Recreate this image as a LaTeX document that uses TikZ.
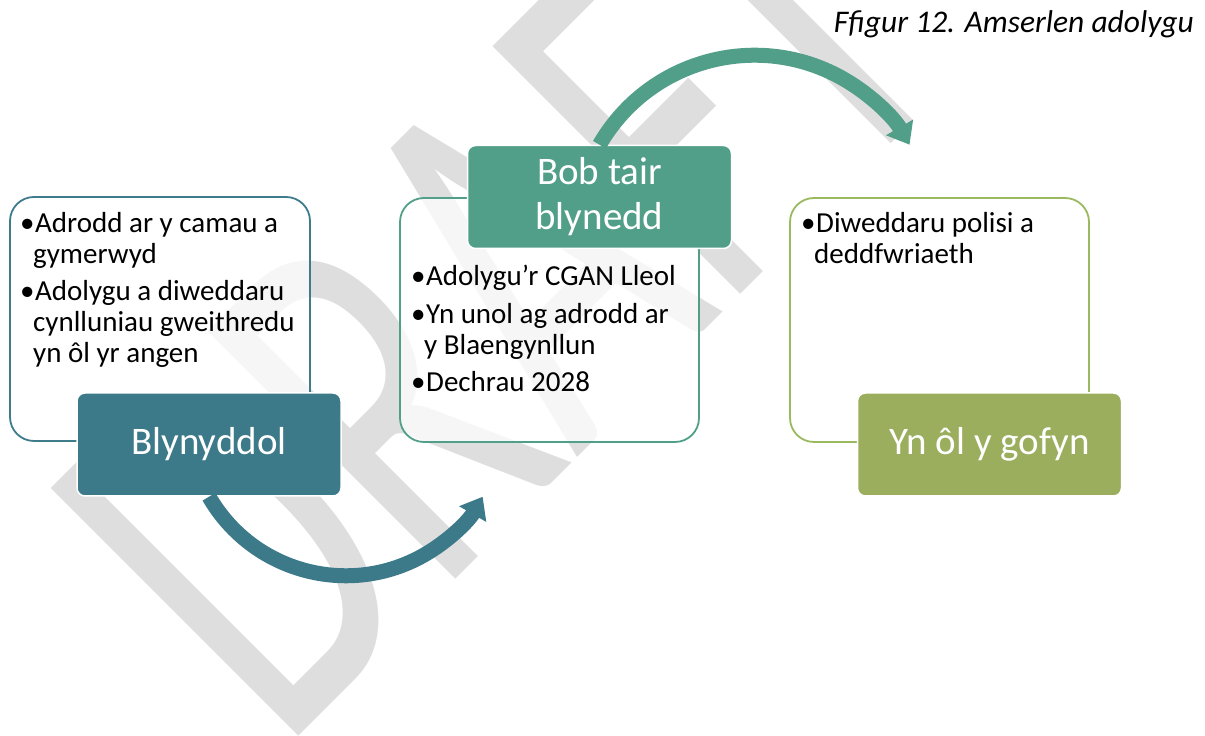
\documentclass[tikz,border=0pt]{standalone}
\usepackage{fontspec}
\setmainfont{Carlito}
\usetikzlibrary{arrows.meta}
\definecolor{cA}{RGB}{60,122,137}
\definecolor{cAl}{RGB}{62,124,140}
\definecolor{cB}{RGB}{82,159,137}
\definecolor{cC}{RGB}{155,174,93}
\definecolor{cCl}{RGB}{155,185,95}
\definecolor{wm}{RGB}{222,222,222}
\newcommand\wfbody{\fontsize{29}{31}\selectfont}
\newcommand\wfhead{\fontsize{39}{45}\selectfont}
\newcommand\wftitle{\fontsize{31.5}{36}\selectfont\itshape}
\newcommand\wfmark{\fontsize{546}{546}\selectfont}
\newcommand\bul{\makebox[15pt][l]{•}}
\newcommand\ind{\hspace*{13pt}}
\newcommand\fst{\rule{0pt}{24pt}}
\begin{document}
\begin{tikzpicture}[x=1pt,y=1pt,
  wbox/.style={draw=#1, line width=1.8pt, fill=white, fill opacity=0.75, rounded corners=24pt, minimum height=244pt, inner sep=0pt},
  hbox/.style={fill=#1, draw=white, line width=1.5pt, rounded corners=8pt, minimum width=264pt, minimum height=103pt, inner sep=0pt, text=white, font=\wfhead, align=center},
  body/.style={anchor=north west, align=left, inner sep=0pt, font=\wfbody, text=black},
  arr/.style={draw=#1, line width=15pt, -{Triangle[width=30pt,length=20pt]}}
]
\useasboundingbox (0,0) rectangle (1205,736);
\clip (0,0) rectangle (1205,736);
\fill[white] (0,0) rectangle (1205,736);
% watermark
\node[anchor=base west, rotate=45, inner sep=0pt, text=wm, font=\wfmark] (wmk) at (281,-18) {\scalebox{0.66}[1]{DRAFT}};
% white boxes
\node[wbox=cAl, minimum width=300pt] (b1) at (160,417) {};
\node[wbox=cB, minimum width=299pt] (b2) at (549.5,416) {};
\node[wbox=cCl, minimum width=299pt] (b3) at (939.5,416) {};
% body texts
\node[body] (t1) at (20,528) {\fst\bul Adrodd ar y camau a\\\ind gymerwyd\\[6pt]\bul Adolygu a diweddaru\\\ind cynlluniau gweithredu\\\ind yn ôl yr angen};
\node[body] (t2) at (411,475) {\fst\bul Adolygu’r CGAN Lleol\\[7pt]\bul Yn unol ag adrodd ar\\\ind y Blaengynllun\\[6pt]\bul Dechrau 2028};
\node[body] (t3) at (801,528) {\fst\bul Diweddaru polisi a\\\ind deddfwriaeth};
% heading boxes
\node[hbox=cA] (h1) at (209,291.5) {Blynyddol};
\node[hbox=cB] (h2) at (599.5,539) {Bob tair\\blynedd};
\node[hbox=cC] (h3) at (989.5,291.5) {Yn ôl y gofyn};
% arrows
\draw[arr=cA] (h1.south) arc[start angle=210, end angle=330, radius=158];
\draw[arr=cB] (h2.north) arc[start angle=150, end angle=30, radius=179];
% title
\node[anchor=base east, inner sep=0pt, font=\wftitle] (title) at (1194,703) {Ffigur 12. Amserlen adolygu};
\end{tikzpicture}
\end{document}
